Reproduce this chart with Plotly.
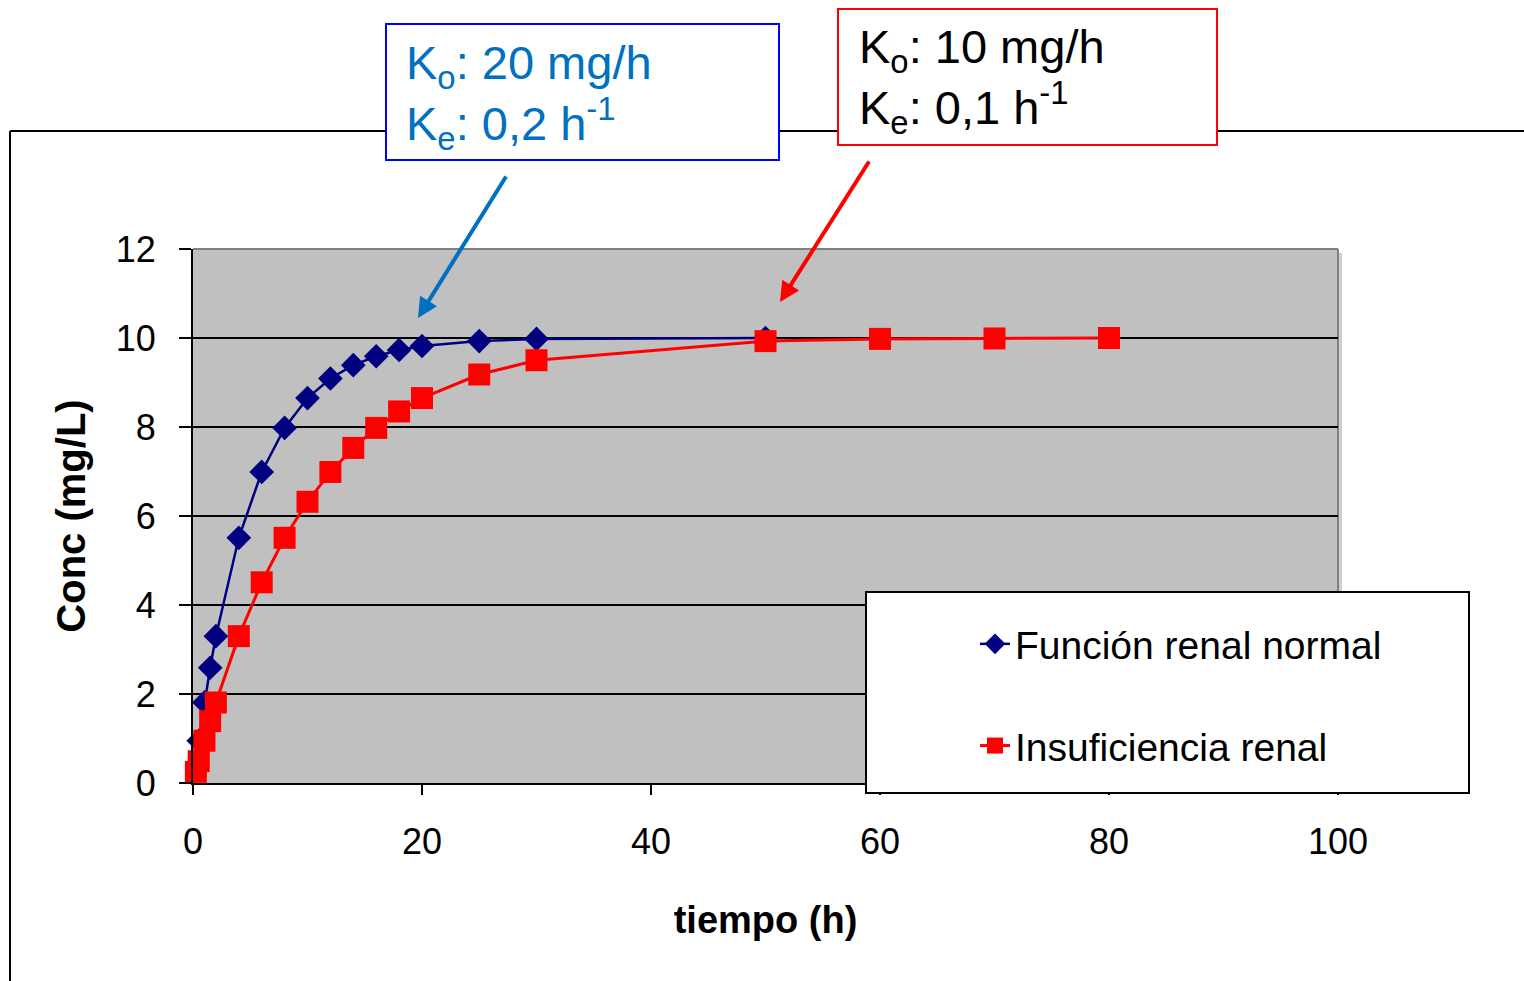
import plotly.graph_objects as go

# ---------------- data ----------------
t_normal = [0.5, 1, 1.5, 2, 4, 6, 8, 10, 12, 14, 16, 18, 20, 25, 30, 50]
c_normal = [0.95, 1.81, 2.59, 3.30, 5.51, 6.99, 7.98, 8.65, 9.09, 9.39, 9.59, 9.73, 9.82, 9.93, 9.98, 10.0]

t_renal = [0.25, 0.5, 1, 1.5, 2, 4, 6, 8, 10, 12, 14, 16, 18, 20, 25, 30, 50, 60, 70, 80]
c_renal = [0.25, 0.49, 0.95, 1.39, 1.81, 3.30, 4.51, 5.51, 6.32, 6.99, 7.53, 7.98, 8.35, 8.65, 9.18, 9.50, 9.93, 9.98, 9.99, 10.0]

x_ticks = [0, 20, 40, 60, 80, 100]
y_ticks = [0, 2, 4, 6, 8, 10, 12]

name_normal = "Función renal normal"
name_renal = "Insuficiencia renal"

# ---------------- layout helpers (pixel -> paper) ----------------
W, H = 1524, 981
L, R, T, B = 193, 1338, 249, 783
def xp(px):
    return (px - L) / (R - L)
def yp(py):
    return (B - py) / (B - T)

FONT = "Arial, Liberation Sans, sans-serif"

fig = go.Figure()
fig.add_trace(go.Scatter(
    x=t_normal, y=c_normal, mode="lines+markers", name=name_normal,
    line=dict(color="#000080", width=2.5),
    marker=dict(symbol="diamond", size=19, color="#000080"),
    legendgroup="a", cliponaxis=False,
))
fig.add_trace(go.Scatter(
    x=t_renal, y=c_renal, mode="lines+markers", name=name_renal,
    line=dict(color="#FF0000", width=3),
    marker=dict(symbol="square", size=22, color="#FF0000"),
    legendgroup="b", cliponaxis=False,
))

shapes = [
    # outer frame (top and left)
    dict(type="line", xref="paper", yref="paper", x0=xp(10), y0=yp(131), x1=xp(1530), y1=yp(131),
         line=dict(color="black", width=2)),
    dict(type="line", xref="paper", yref="paper", x0=xp(10), y0=yp(131), x1=xp(10), y1=yp(990),
         line=dict(color="black", width=2)),
    # plot area shadow and gray border (top, right)
    dict(type="rect", xref="paper", yref="paper", x0=1, y0=0, x1=xp(1342), y1=yp(253),
         fillcolor="#D0D0D0", line=dict(width=0), layer="below"),
    dict(type="line", xref="paper", yref="paper", x0=0, y0=1, x1=1, y1=1,
         line=dict(color="#808080", width=2), layer="below"),
    dict(type="line", xref="paper", yref="paper", x0=1, y0=0, x1=1, y1=1,
         line=dict(color="#808080", width=2), layer="below"),
    # legend box
    dict(type="rect", xref="paper", yref="paper", x0=xp(866), y0=yp(793), x1=xp(1469), y1=yp(592),
         fillcolor="white", line=dict(color="black", width=2), layer="above"),
    # annotation boxes
    dict(type="rect", xref="paper", yref="paper", x0=xp(386), y0=yp(160), x1=xp(779), y1=yp(24),
         fillcolor="white", line=dict(color="#0000FF", width=2)),
    dict(type="rect", xref="paper", yref="paper", x0=xp(838), y0=yp(145), x1=xp(1217), y1=yp(9),
         fillcolor="white", line=dict(color="#FF0000", width=2)),
]

annotations = [
    dict(xref="paper", yref="paper", x=xp(404), y=yp(96), xanchor="left", yanchor="middle",
         text="K<sub>o</sub>: 20 mg/h<br>K<sub>e</sub>: 0,2 h<sup>-1</sup>", align="left",
         showarrow=False, font=dict(family=FONT, size=47, color="#0070C0")),
    dict(xref="paper", yref="paper", x=xp(857), y=yp(80), xanchor="left", yanchor="middle",
         text="K<sub>o</sub>: 10 mg/h<br>K<sub>e</sub>: 0,1 h<sup>-1</sup>", align="left",
         showarrow=False, font=dict(family=FONT, size=47, color="black")),
    dict(xref="paper", yref="paper", x=xp(418), y=yp(318), ax=507 - 418, ay=175 - 318,
         text="", showarrow=True, arrowhead=2, arrowsize=1, arrowwidth=4, arrowcolor="#0070C0", standoff=0),
    dict(xref="paper", yref="paper", x=xp(780), y=yp(302), ax=870 - 780, ay=160 - 302,
         text="", showarrow=True, arrowhead=2, arrowsize=1, arrowwidth=4, arrowcolor="#FF0000", standoff=0),
]

fig.update_layout(
    width=W, height=H,
    margin=dict(l=L, r=W - R, t=T, b=H - B, pad=0),
    paper_bgcolor="white", plot_bgcolor="#C0C0C0",
    font=dict(family=FONT, size=36, color="black"),
    showlegend=True,
    legend=dict(
        x=xp(975), y=yp(612), xanchor="left", yanchor="top",
        bgcolor="rgba(0,0,0,0)", borderwidth=0,
        font=dict(family=FONT, size=39, color="black"),
        traceorder="grouped", tracegroupgap=48, itemsizing="trace",
    ),
    xaxis=dict(
        range=[0, 100], tickvals=x_ticks, ticktext=[str(v) for v in x_ticks],
        showgrid=False, zeroline=False, showline=True, linecolor="black", linewidth=2,
        ticks="outside", ticklen=10, tickwidth=2, tickcolor="black", ticklabelstandoff=16,
        title=dict(text="<b>tiempo (h)</b>", font=dict(family=FONT, size=38), standoff=45),
    ),
    yaxis=dict(
        range=[0, 12], tickvals=y_ticks, ticktext=[str(v) for v in y_ticks],
        showgrid=True, gridcolor="black", gridwidth=2, zeroline=False,
        showline=True, linecolor="black", linewidth=2,
        ticks="outside", ticklen=12, tickwidth=2, tickcolor="black", ticklabelstandoff=16,
        title=dict(text="<b>Conc (mg/L)</b>", font=dict(family=FONT, size=40), standoff=18),
    ),
    shapes=shapes, annotations=annotations,
)

fig.write_html("out.html")
